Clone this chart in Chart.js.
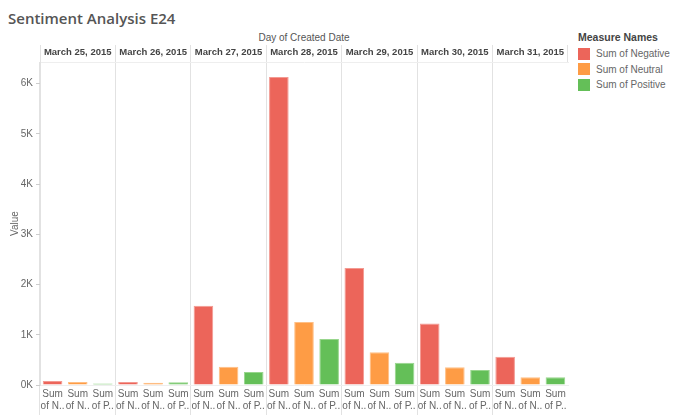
<!DOCTYPE html>
<html>
<head>
<meta charset="utf-8">
<script src="https://cdn.jsdelivr.net/npm/chart.js@4"></script>
<style>
  body { margin: 0; width: 690px; height: 415px; background: #fff; font-family: "Liberation Sans", Arial, sans-serif; overflow: hidden; }
  #title { position: absolute; left: 8px; top: 8px; font: 600 15px "Open Sans", sans-serif; color: #555; }
  #coltitle { position: absolute; left: 40px; width: 528px; top: 32px; text-align: center; font-size: 10px; color: #555; }
  #wrap { position: absolute; left: 0; top: 45px; width: 570px; height: 370px; }
  #legend { position: absolute; left: 578px; top: 31px; font-size: 10px; color: #666; }
  #legend .head { font-weight: bold; font-size: 10.5px; color: #444; margin-bottom: 3px; }
  #legend .item { height: 15.5px; display: flex; align-items: center; }
  #legend .sw { width: 12px; height: 12px; margin-right: 6px; }
</style>
</head>
<body>
<div id="title">Sentiment Analysis E24</div>
<div id="coltitle">Day of Created Date</div>
<div id="wrap"><canvas id="myChart"></canvas></div>
<div id="legend"></div>
<script>
const dates = ["March 25, 2015", "March 26, 2015", "March 27, 2015", "March 28, 2015", "March 29, 2015", "March 30, 2015", "March 31, 2015"];
const measures = ["Sum of Negative", "Sum of Neutral", "Sum of Positive"];
const shortLabels = [["Sum", "of N.."], ["Sum", "of N.."], ["Sum", "of P.."]];
const negative = [80, 60, 1580, 6130, 2330, 1225, 560];
const neutral = [60, 45, 365, 1255, 650, 355, 155];
const positive = [30, 55, 260, 915, 445, 300, 155];
const yTicks = [0, 1000, 2000, 3000, 4000, 5000, 6000];
const colors = ["#ec655a", "#fe9c45", "#64bf58"];
const edges = ["#f39a92", "#ffbf85", "#98d68d"];
const fam = '"Liberation Sans", Arial, sans-serif';

// one category per (date, measure)
const labels = [];
dates.forEach(() => shortLabels.forEach((l) => labels.push(l)));

const series = [negative, neutral, positive];
const datasets = series.map((vals, m) => {
  const d = [];
  dates.forEach((_, i) => {
    for (let k = 0; k < 3; k++) d.push(k === m ? vals[i] : null);
  });
  return {
    label: measures[m],
    data: d,
    backgroundColor: colors[m],
    borderColor: edges[m],
    borderWidth: 1,
    borderSkipped: "bottom",
    grouped: false,
    barPercentage: 0.78,
    categoryPercentage: 1,
  };
});

// legend
const lg = document.getElementById("legend");
lg.innerHTML = '<div class="head">Measure Names</div>' +
  measures.map((m, i) => '<div class="item"><span class="sw" style="background:' + colors[i] + '"></span>' + m + "</div>").join("");

const ctx = document.getElementById("myChart").getContext("2d");
new Chart(ctx, {
  type: "bar",
  data: { labels, datasets },
  options: {
    responsive: true,
    maintainAspectRatio: false,
    animation: false,
    layout: { padding: { left: 0, right: 2, top: 0, bottom: 0 }, autoPadding: false },
    plugins: { legend: { display: false }, tooltip: { enabled: false } },
    scales: {
      x: {
        position: "bottom",
        offset: true,
        grid: {
          offset: true,
          tickLength: 30,
          color: (c) => (c.index % 3 === 0 ? "#e2e2e2" : "transparent"),
        },
        border: { color: "#eeeeee" },
        ticks: {
          autoSkip: false,
          maxRotation: 0,
          padding: -27,
          color: "#666",
          font: { size: 10, family: fam, lineHeight: 1.2 },
        },
        afterFit: (s) => { s.height = 30; },
      },
      x2: {
        type: "category",
        labels: dates,
        position: "top",
        offset: true,
        grid: { offset: true, drawOnChartArea: false, tickLength: 17, color: "#e2e2e2" },
        border: { color: "#eeeeee" },
        ticks: {
          autoSkip: false,
          maxRotation: 0,
          padding: -13,
          color: "#444",
          font: { size: 9.5, weight: "bold", family: fam },
        },
        afterFit: (s) => { s.height = 17; },
      },
      y: {
        min: 0,
        max: 6430,
        afterBuildTicks: (s) => { s.ticks = yTicks.map((v) => ({ value: v })); },
        grid: { drawOnChartArea: false, tickLength: 4, color: "#cccccc" },
        border: { color: "#e2e2e2" },
        ticks: {
          padding: 3,
          color: "#666",
          font: { size: 10, family: fam },
          callback: (v) => v / 1000 + "K",
        },
        title: {
          display: true,
          text: "Value",
          color: "#666",
          padding: { top: 9, bottom: 0 },
          font: { size: 10, family: fam },
        },
        afterFit: (s) => { s.width = 40; },
      },
    },
  },
});
</script>
</body>
</html>
